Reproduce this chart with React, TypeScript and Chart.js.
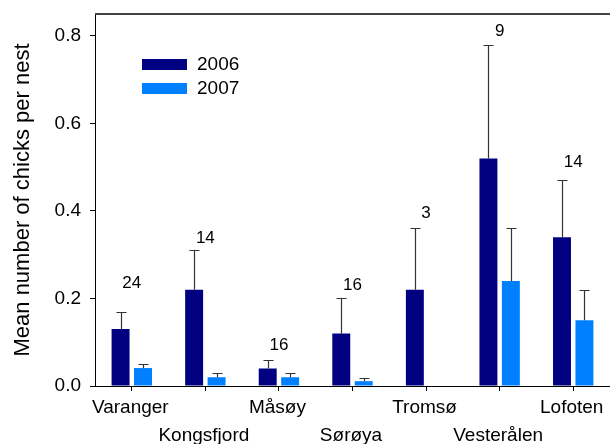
import React, { useEffect, useRef } from "react";
import { Chart, registerables } from "chart.js";

Chart.register(...registerables);

const categories = ["Varanger", "Kongsfjord", "Måsøy", "Sørøya", "Tromsø", "Vesterålen", "Lofoten"];
const seriesNames = ["2006", "2007"];
const mean2006 = [0.13, 0.22, 0.04, 0.12, 0.22, 0.52, 0.34];
const mean2007 = [0.041, 0.02, 0.02, 0.011, null, 0.24, 0.15];
const upper2006 = [0.17, 0.31, 0.06, 0.2, 0.36, 0.78, 0.47];
const upper2007 = [0.05, 0.03, 0.03, 0.018, null, 0.36, 0.22];
const sampleSizes = ["24", "14", "16", "16", "3", "9", "14"];
const sampleLabelAt = [0.234, 0.338, 0.092, 0.229, 0.395, 0.811, 0.51];
const yMin = 0;
const yMax = 0.85;
const yStep = 0.2;

const colors = ["#000080", "#0080ff"];
const FONT = "'Liberation Sans', Arial, sans-serif";

const overlay = {
  id: "overlay",
  afterDatasetsDraw(chart: any) {
    const ctx = chart.ctx;
    const area = chart.chartArea;
    const ys = chart.scales.y;
    const xs = chart.scales.x;
    const uppers = [upper2006, upper2007];
    ctx.save();
    // error bars
    ctx.strokeStyle = "#333";
    ctx.lineWidth = 1.2;
    uppers.forEach((up, di) => {
      const meta = chart.getDatasetMeta(di);
      meta.data.forEach((el: any, j: number) => {
        const u = up[j];
        if (u == null || chart.data.datasets[di].data[j] == null) return;
        const x = Math.round(el.x) + 0.5;
        const yTop = Math.round(ys.getPixelForValue(u)) + 0.5;
        ctx.beginPath();
        ctx.moveTo(x, el.y);
        ctx.lineTo(x, yTop);
        ctx.moveTo(x - 5, yTop);
        ctx.lineTo(x + 5, yTop);
        ctx.stroke();
      });
    });
    // sample size labels
    ctx.fillStyle = "#000";
    ctx.font = `17px ${FONT}`;
    ctx.textAlign = "center";
    ctx.textBaseline = "middle";
    sampleSizes.forEach((s, i) => {
      ctx.fillText(s, xs.getPixelForValue(i), ys.getPixelForValue(sampleLabelAt[i]));
    });
    // staggered x labels
    ctx.font = `19px ${FONT}`;
    ctx.textBaseline = "alphabetic";
    categories.forEach((c, i) => {
      const x = xs.getPixelForValue(i) - 1.5;
      const y = area.bottom + (i % 2 === 0 ? 27 : 55);
      ctx.fillText(c, x, y);
    });
    // top border
    ctx.strokeStyle = "#444";
    ctx.lineWidth = 2;
    ctx.beginPath();
    ctx.moveTo(area.left, area.top);
    ctx.lineTo(area.right, area.top);
    ctx.stroke();
    // legend
    ctx.textAlign = "left";
    ctx.textBaseline = "middle";
    ctx.font = `19px ${FONT}`;
    seriesNames.forEach((n, i) => {
      const top = area.top + 45 + i * 24;
      ctx.fillStyle = colors[i];
      ctx.fillRect(area.left + 47, top, 45, 11);
      ctx.fillStyle = "#000";
      ctx.fillText(n, area.left + 102, top + 6);
    });
    // y title
    ctx.translate(28.5, (area.top + area.bottom) / 2);
    ctx.rotate(-Math.PI / 2);
    ctx.textAlign = "center";
    ctx.textBaseline = "alphabetic";
    ctx.font = `22px ${FONT}`;
    ctx.fillText("Mean number of chicks per nest", 0, 0);
    ctx.restore();
  },
};

export default function App() {
  const ref = useRef<HTMLCanvasElement | null>(null);
  useEffect(() => {
    if (!ref.current) return;
    const chart = new Chart(ref.current, {
      type: "bar",
      data: {
        labels: categories,
        datasets: [
          { label: seriesNames[0], data: mean2006, backgroundColor: colors[0], categoryPercentage: 0.61, barPercentage: 0.8 },
          { label: seriesNames[1], data: mean2007 as any, backgroundColor: colors[1], categoryPercentage: 0.61, barPercentage: 0.8 },
        ],
      },
      options: {
        responsive: false,
        animation: false,
        devicePixelRatio: 1,
        layout: { padding: { top: 14, right: 0, left: 0, bottom: 0 } },
        plugins: { legend: { display: false }, tooltip: { enabled: false } },
        scales: {
          x: {
            afterFit: (s: any) => {
              s.height = 58;
              s.paddingLeft = 0;
              s.paddingRight = 0;
              s.paddingTop = 0;
              s.paddingBottom = 0;
            },
            grid: { display: true, drawOnChartArea: false, drawTicks: true, tickLength: 5, color: "#000", offset: false },
            border: { display: true, color: "#000", width: 1 },
            ticks: { color: "rgba(0,0,0,0)", font: { size: 19, family: FONT } },
          },
          y: {
            min: yMin,
            max: yMax,
            afterFit: (s: any) => {
              s.width = 95;
              s.paddingTop = 0;
              s.paddingBottom = 0;
              s.paddingLeft = 0;
              s.paddingRight = 0;
            },
            grid: { display: true, drawOnChartArea: false, drawTicks: true, tickLength: 5, color: "#000" },
            border: { display: true, color: "#000", width: 1 },
            ticks: {
              stepSize: yStep,
              includeBounds: false,
              color: "#000",
              padding: 9,
              font: { size: 19, family: FONT },
              callback: (v: any) => Number(v).toFixed(1),
            },
          },
        },
      },
      plugins: [overlay],
    });
    return () => chart.destroy();
  }, []);
  return (
    <div style={{ position: "absolute", left: 0, top: 0, width: 610, height: 444, background: "#fff" }}>
      <canvas ref={ref} width={610} height={444} />
    </div>
  );
}
